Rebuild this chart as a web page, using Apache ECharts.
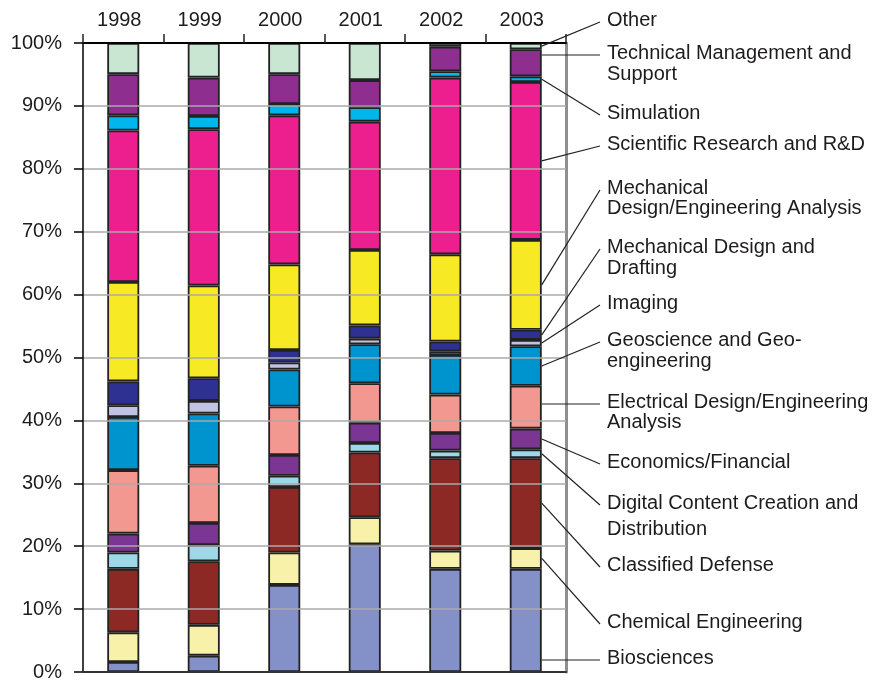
<!DOCTYPE html>
<html>
<head>
<meta charset="utf-8">
<script src="https://cdn.jsdelivr.net/npm/echarts@6/dist/echarts.min.js"></script>
<style>
  html, body { margin: 0; padding: 0; background: #fff; }
  #main { width: 883px; height: 682px; }
</style>
</head>
<body>
<div id="main"></div>
<script>
var years = ['1998', '1999', '2000', '2001', '2002', '2003'];
var yTicks = [0, 10, 20, 30, 40, 50, 60, 70, 80, 90, 100];

// shares in % (bottom of stack first)
var biosciences   = [1.6, 2.6, 13.85, 20.3, 16.4, 16.4];
var chemical      = [4.7, 4.9, 5.15, 4.3, 2.9, 3.3];
var classified    = [10.1, 10.1, 10.4, 10.3, 14.7, 14.3];
var digital       = [2.6, 2.6, 1.8, 1.5, 1.2, 1.4];
var economics     = [3.0, 3.5, 3.3, 3.25, 2.8, 3.3];
var electrical    = [10.1, 9.1, 7.7, 6.25, 6.1, 6.8];
var geoscience    = [8.45, 8.3, 5.9, 6.2, 6.3, 6.3];
var imaging       = [1.85, 2.0, 1.1, 0.9, 0.6, 1.0];
var mechDrafting  = [3.8, 3.6, 2.0, 2.1, 1.55, 1.6];
var mechAnalysis  = [15.8, 14.75, 13.6, 12.0, 13.85, 14.3];
var scientific    = [24.1, 24.85, 23.7, 20.4, 28.1, 25.1];
var simulation    = [2.4, 2.1, 1.8, 2.3, 1.0, 0.9];
var technical     = [6.55, 6.1, 4.75, 4.3, 3.9, 4.3];
var other         = [4.95, 5.5, 4.95, 5.9, 0.6, 1.0];

var seriesNames = [
  'Biosciences', 'Chemical Engineering', 'Classified Defense',
  'Digital Content Creation and\nDistribution', 'Economics/Financial',
  'Electrical Design/Engineering\nAnalysis', 'Geoscience and Geo-\nengineering',
  'Imaging', 'Mechanical Design and\nDrafting', 'Mechanical\nDesign/Engineering Analysis',
  'Scientific Research and R&D', 'Simulation', 'Technical Management and\nSupport', 'Other'
];
var seriesData = [biosciences, chemical, classified, digital, economics, electrical,
  geoscience, imaging, mechDrafting, mechAnalysis, scientific, simulation, technical, other];

var colors = ['#8490c8', '#f7f1a9', '#8c2924', '#9cd8e8', '#7b3593', '#f29891', '#0094cf',
  '#c0c3e3', '#2e3192', '#f7e923', '#ed1e8e', '#00b6ec', '#8e2f8f', '#c9e6d3'];

// side labels: centre of first line, line height
var labelLayout = [
  { y: 658, lh: 21 }, { y: 622, lh: 21 }, { y: 565, lh: 21 }, { y: 503, lh: 26 },
  { y: 462, lh: 21 }, { y: 402, lh: 20 }, { y: 340, lh: 21 }, { y: 303, lh: 21 },
  { y: 247, lh: 21 }, { y: 188, lh: 20 }, { y: 144, lh: 21 }, { y: 113, lh: 21 },
  { y: 53, lh: 21 }, { y: 20, lh: 21 }
];

var FONT = '"Liberation Sans", Arial, Helvetica, sans-serif';
var TXT = '#1e1b1c';
var BAR_W = 32;

var chart = echarts.init(document.getElementById('main'));

var option = {
  animation: false,
  grid: { left: 83, right: 317, top: 43, bottom: 6, containLabel: false },
  xAxis: [
    {
      type: 'category',
      position: 'top',
      data: years,
      axisLine: { onZero: false, lineStyle: { color: '#000', width: 2 } },
      axisTick: { show: true, length: 9, lineStyle: { color: '#222', width: 1.5 } },
      axisLabel: { color: TXT, fontSize: 20, fontFamily: FONT, margin: 13, padding: [0, 8, 0, 0] },
      z: 9
    },
    {
      type: 'category',
      position: 'bottom',
      data: years,
      axisLine: { onZero: false, lineStyle: { color: '#333', width: 2 } },
      axisTick: { show: false },
      axisLabel: { show: false },
      z: 9
    }
  ],
  yAxis: [
    {
      type: 'value',
      min: yTicks[0],
      max: yTicks[yTicks.length - 1],
      interval: 10,
      axisLine: { show: true, lineStyle: { color: '#000', width: 1.5 } },
      axisTick: { show: true, length: 9, lineStyle: { color: '#000', width: 1.5 } },
      axisLabel: { color: TXT, fontSize: 20, fontFamily: FONT, margin: 21, formatter: '{value}%' },
      splitLine: { show: true, lineStyle: { color: '#aaa', width: 1.5 } },
      z: 8
    },
    {
      type: 'value',
      position: 'right',
      min: 0,
      max: 100,
      axisLine: { show: true, lineStyle: { color: '#8f8f8f', width: 3 } },
      axisTick: { show: false },
      axisLabel: { show: false },
      splitLine: { show: false }
    }
  ],
  series: seriesData.map(function (d, i) {
    return {
      name: seriesNames[i],
      type: 'bar',
      stack: 'share',
      barWidth: BAR_W,
      data: d,
      itemStyle: { color: colors[i], borderColor: '#222', borderWidth: 1.8 },
      z: 3
    };
  })
};

chart.setOption(option);

// leader lines + side labels, anchored on the 2003 bar
var graphics = [];
var xc = chart.convertToPixel({ xAxisIndex: 0 }, years[years.length - 1]);
var ax = xc + BAR_W / 2;
var cum = 0;
seriesData.forEach(function (d, i) {
  var lo = cum;
  cum += d[d.length - 1];
  var yLo = chart.convertToPixel({ yAxisIndex: 0 }, lo);
  var yHi = chart.convertToPixel({ yAxisIndex: 0 }, cum);
  var L = labelLayout[i];
  var ly = L.y + 2;
  var ay = (ly < yLo - 2 && ly > yHi + 2) ? ly : (yLo + yHi) / 2;
  // long magenta block: leader hits it a bit lower than the label
  if (yLo - yHi > 100) ay = Math.max(ay, yHi + (yLo - yHi) * 0.5);
  graphics.push({
    type: 'line',
    shape: { x1: ax, y1: ay, x2: 600, y2: ly },
    style: { stroke: '#222', lineWidth: 1.2 },
    z: 10
  });
  graphics.push({
    type: 'text',
    x: 607,
    y: L.y - L.lh / 2,
    style: {
      text: seriesNames[i],
      fill: TXT,
      font: '20px ' + FONT,
      lineHeight: L.lh,
      verticalAlign: 'top',
      align: 'left'
    },
    z: 10
  });
});
chart.setOption({ graphic: graphics });

window.addEventListener('resize', function () {
  chart.resize();
});
</script>
</body>
</html>
